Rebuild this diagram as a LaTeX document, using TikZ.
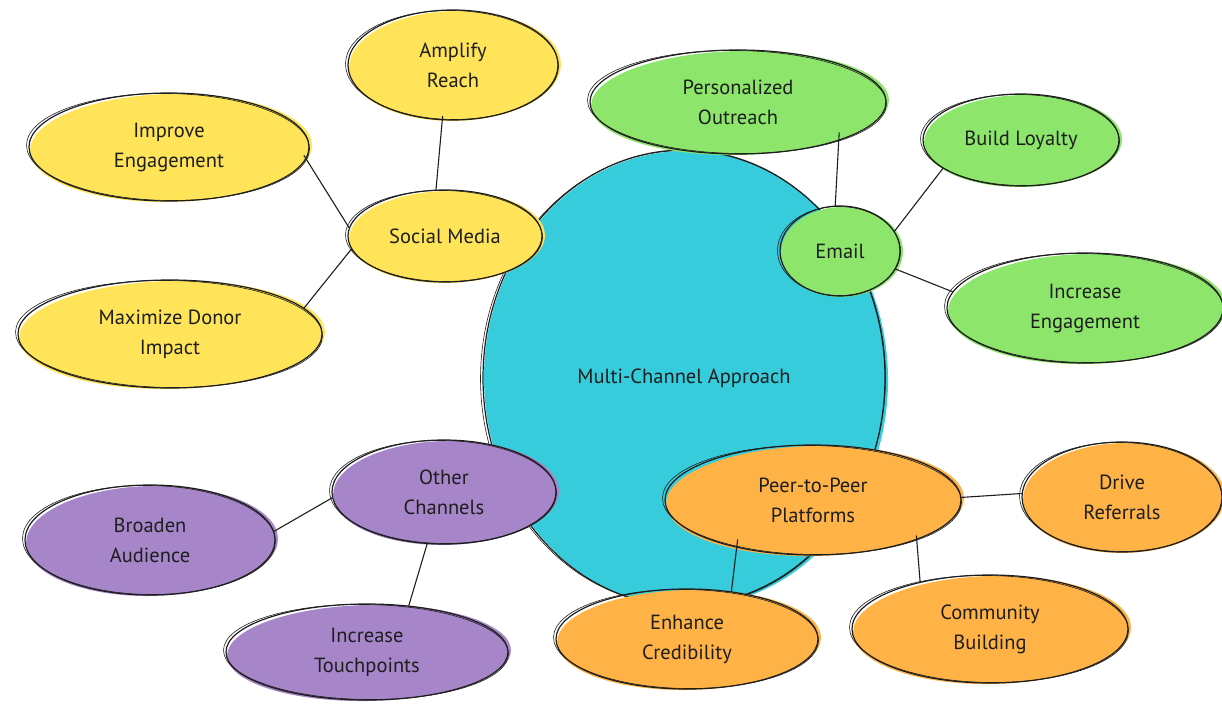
\documentclass[tikz,border=0pt]{standalone}
\usepackage{fontspec}
\setmainfont{PT Sans}
\usetikzlibrary{shapes.geometric}
\begin{document}
\definecolor{ink}{HTML}{1E1E1E}
\definecolor{cyanfill}{HTML}{36CCDB}
\definecolor{yellowfill}{HTML}{FFE45A}
\definecolor{greenfill}{HTML}{8DE66B}
\definecolor{purplefill}{HTML}{A685C9}
\definecolor{orangefill}{HTML}{FFB347}
\tikzset{
  bubble/.style={ellipse, draw=ink, line width=1.2pt, inner sep=0pt,
    align=center, text=ink, font=\fontsize{20.5}{30}\selectfont},
  rough/.style={draw=ink, line width=0.6pt},
  link/.style={draw=ink, line width=1.1pt, line cap=round},
}
% #1 name, #2 x, #3 y, #4 x-radius, #5 y-radius, #6 fill colour, #7 label
\newcommand\sketchbubble[7]{%
  \fill[#6, rotate around={1.2:(#2,#3)}] (#2+2,#3+1) ellipse ({#4+1} and {#5});
  \node[bubble, minimum width=2*#4pt, minimum height=2*#5pt] (#1) at (#2,#3) {#7};
  \draw[rough, rotate around={-0.8:(#2,#3)}] (#2-1,#3) ellipse ({#4+1.5} and {#5-0.5});
}
\begin{tikzpicture}[x=1pt, y=-1pt]
\useasboundingbox (0,0) rectangle (1222,706);

% hub
\sketchbubble{hub}{684}{378}{201}{228}{cyanfill}{Multi-Channel Approach}

% social media branch
\sketchbubble{soc}{445}{236}{97}{46}{yellowfill}{Social Media}
\sketchbubble{amp}{453}{65}{105}{55}{yellowfill}{Amplify\\Reach}
\sketchbubble{imp}{169}{147}{140}{54}{yellowfill}{Improve\\Engagement}
\sketchbubble{max}{170}{334}{152}{54}{yellowfill}{Maximize Donor\\Impact}

% email branch
\sketchbubble{per}{738}{102}{148}{52}{greenfill}{Personalized\\Outreach}
\sketchbubble{em}{840}{251}{60}{45}{greenfill}{Email}
\sketchbubble{loy}{1021}{140}{98}{46}{greenfill}{Build Loyalty}
\sketchbubble{inc}{1085}{308}{138}{55}{greenfill}{Increase\\Engagement}

% other channels branch
\sketchbubble{oth}{444}{492}{112}{52}{purplefill}{Other\\Channels}
\sketchbubble{bro}{150}{540}{125}{55}{purplefill}{Broaden\\Audience}
\sketchbubble{tou}{367}{652}{141}{48}{purplefill}{Increase\\Touchpoints}

% peer-to-peer branch
\sketchbubble{pee}{813}{500}{148}{55}{orangefill}{Peer-to-Peer\\Platforms}
\sketchbubble{dri}{1122}{497}{100}{55}{orangefill}{Drive\\Referrals}
\sketchbubble{enh}{687}{639}{131}{50}{orangefill}{Enhance\\Credibility}
\sketchbubble{com}{990}{629}{138}{54}{orangefill}{Community\\Building}

% connectors
\draw[link, shorten <=-4pt] (amp.-101.4) -- (soc.101.4);
\draw[link, shorten <=-4pt] (imp.-5.9) -- (soc.175.2);
\draw[link] (max.11) -- (soc.-172.2);
\draw[link, shorten <=-8pt] (per.-21.5) -- (em.96.4);
\draw[link] (loy.-160.7) -- (em.20.8);
\draw[link] (em.-18) -- (inc.173.2);
\draw[link] (oth.-177) -- (bro.4);
\draw[link] (oth.-108) -- (tou.48);
\draw[link] (pee.1) -- (dri.178);
\draw[link, shorten <=-8pt] (pee.-148.6) -- (enh.47.5);
\draw[link, shorten <=-4pt] (pee.-21.2) -- (com.146);
\end{tikzpicture}
\end{document}
